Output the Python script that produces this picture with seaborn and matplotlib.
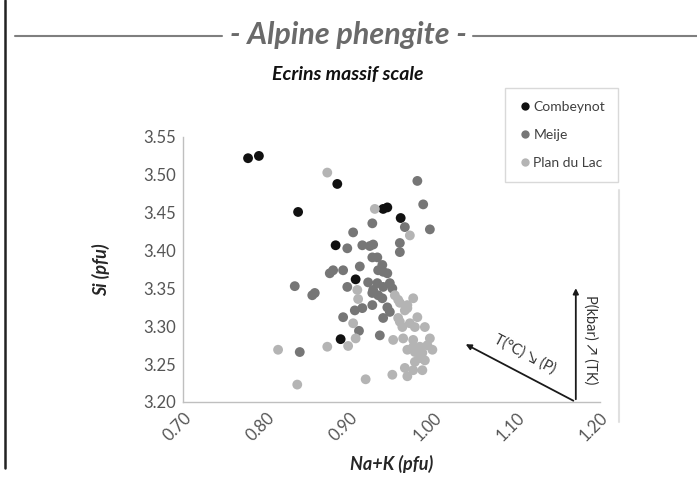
import numpy as np
import pandas as pd
import seaborn as sns
import matplotlib.pyplot as plt
from matplotlib.lines import Line2D

# Si vs Na+K (pfu)
comb_x = [0.778, 0.791, 0.885, 0.838, 0.940, 0.945, 0.961, 0.883, 0.907, 0.889]
comb_y = [3.522, 3.525, 3.488, 3.451, 3.455, 3.457, 3.443, 3.407, 3.362, 3.283]

meije_x = [0.981, 0.988, 0.927, 0.966, 0.996, 0.904, 0.897, 0.915, 0.924, 0.928,
           0.960, 0.960, 0.927, 0.933, 0.912, 0.880, 0.876, 0.892, 0.939, 0.940,
           0.934, 0.945, 0.897, 0.922, 0.933, 0.940, 0.928, 0.948, 0.951, 0.834,
           0.855, 0.858, 0.927, 0.934, 0.939, 0.906, 0.915, 0.927, 0.945, 0.948,
           0.892, 0.940, 0.911, 0.936, 0.840]
meije_y = [3.492, 3.461, 3.436, 3.431, 3.428, 3.424, 3.403, 3.407, 3.406, 3.408,
           3.410, 3.398, 3.391, 3.391, 3.379, 3.374, 3.370, 3.374, 3.381, 3.372,
           3.374, 3.370, 3.352, 3.358, 3.357, 3.352, 3.348, 3.357, 3.350, 3.353,
           3.341, 3.344, 3.344, 3.341, 3.337, 3.321, 3.324, 3.328, 3.325, 3.319,
           3.312, 3.311, 3.294, 3.288, 3.266]

lac_x = [0.873, 0.930, 0.972, 0.909, 0.910, 0.954, 0.958, 0.976, 0.969, 0.966,
         0.960, 0.958, 0.960, 0.963, 0.969, 0.972, 0.981, 0.978, 0.904, 0.907,
         0.898, 0.952, 0.964, 0.976, 0.990, 0.976, 0.984, 0.993, 0.996, 0.969,
         0.978, 0.987, 0.999, 0.984, 0.990, 0.978, 0.966, 0.976, 0.987, 0.969,
         0.951, 0.919, 0.873, 0.814, 0.837]
lac_y = [3.503, 3.455, 3.420, 3.348, 3.336, 3.341, 3.335, 3.337, 3.328, 3.321,
         3.331, 3.311, 3.306, 3.299, 3.324, 3.304, 3.312, 3.299, 3.304, 3.284,
         3.274, 3.282, 3.284, 3.282, 3.299, 3.273, 3.273, 3.275, 3.284, 3.269,
         3.266, 3.265, 3.269, 3.258, 3.255, 3.253, 3.245, 3.242, 3.242, 3.234,
         3.236, 3.230, 3.273, 3.269, 3.223]

sites = ["Combeynot", "Meije", "Plan du Lac"]
colors = ["#111111", "#767676", "#b4b4b4"]
x_ticks = [0.70, 0.80, 0.90, 1.00, 1.10, 1.20]
y_ticks = [3.20, 3.25, 3.30, 3.35, 3.40, 3.45, 3.50, 3.55]

df = pd.DataFrame({
    "nak": comb_x + meije_x + lac_x,
    "si": comb_y + meije_y + lac_y,
    "site": [sites[0]] * len(comb_x) + [sites[1]] * len(meije_x) + [sites[2]] * len(lac_x),
})

sns.set_style("white")
plt.rcParams["font.family"] = ["Lato", "DejaVu Sans"]

fig = plt.figure(figsize=(6.97, 4.78), dpi=100)
ax = fig.add_axes([183 / 697, 76 / 478, 417 / 697, 265 / 478])

sns.scatterplot(data=df, x="nak", y="si", hue="site", hue_order=sites,
                palette=colors, s=50, linewidth=0, legend=False, ax=ax)

ax.set_xlim(0.70, 1.20)
ax.set_ylim(3.20, 3.55)
ax.set_xticks(x_ticks)
ax.set_xticklabels([f"{v:.2f}" for v in x_ticks], rotation=45, ha="right",
                   rotation_mode="anchor", fontsize=12, color="#555555")
ax.set_xticks(np.arange(0.75, 1.20, 0.10), minor=True)
ax.set_yticks(y_ticks)
ax.set_yticklabels([f"{v:.2f}" for v in y_ticks], fontsize=12, color="#555555")
ax.tick_params(axis="both", which="both", length=3, color="#bfbfbf", direction="inout")
ax.tick_params(axis="x", pad=4)
for side in ["top", "right"]:
    ax.spines[side].set_visible(False)
for side in ["left", "bottom"]:
    ax.spines[side].set_color("#bfbfbf")
    ax.spines[side].set_linewidth(1.0)
ax.set_xlabel("Na+K (pfu)", fontsize=13, fontweight="bold", style="italic", labelpad=8)
ax.set_ylabel("Si (pfu)", fontsize=13, fontweight="bold", style="italic", labelpad=24)

# P-T arrows in the lower right corner
ax.annotate("", xy=(1.171, 3.354), xytext=(1.171, 3.20),
            arrowprops=dict(arrowstyle="-|>", color="#1a1a1a", lw=1.3, mutation_scale=8))
ax.annotate("", xy=(1.036, 3.278), xytext=(1.171, 3.20),
            arrowprops=dict(arrowstyle="-|>", color="#1a1a1a", lw=1.3, mutation_scale=8))
ax.text(1.189, 3.282, "P(kbar) \u2197 (TK)", rotation=-90, ha="center", va="center",
        fontsize=10.5, color="#333333")
ax.text(1.110, 3.263, "T(\u00b0C) \u2198 (P)", rotation=-28, ha="center", va="center",
        fontsize=10.5, color="#333333", rotation_mode="anchor")

# legend box
handles = [Line2D([], [], marker="o", linestyle="", markersize=6, color=c,
                  markeredgewidth=0) for c in colors]
leg = fig.legend(handles, sites, loc="upper left", bbox_to_anchor=(505 / 697, 1 - 88 / 478),
                 borderaxespad=0, frameon=True, fancybox=False, fontsize=10,
                 handletextpad=0.1, handlelength=1.0, labelspacing=1.15, borderpad=0.95)
leg.get_frame().set_edgecolor("#d0d0d0")
leg.get_frame().set_linewidth(1.0)
for t in leg.get_texts():
    t.set_color("#404040")

# titles and page decorations
fig.text(348 / 697, 1 - 35 / 478, "- Alpine phengite -", ha="center", va="center",
         fontsize=22, fontweight="bold", style="italic", color="#6a6a6a")
fig.text(348 / 697, 1 - 75 / 478, "Ecrins massif scale", ha="center", va="center",
         fontsize=14, fontweight="bold", style="italic", color="#111111")
fig.add_artist(Line2D([15 / 697, 222 / 697], [1 - 36 / 478] * 2, color="#7f7f7f", lw=1.5))
fig.add_artist(Line2D([473 / 697, 1.0], [1 - 36 / 478] * 2, color="#7f7f7f", lw=1.5))
fig.add_artist(Line2D([5 / 697] * 2, [1.0, 1 - 468 / 478], color="#222222", lw=1.8))
fig.add_artist(Line2D([619 / 697] * 2, [1 - 190 / 478, 1 - 422 / 478], color="#e0e0e0", lw=1.5))

fig.savefig("out.png", dpi=100)
